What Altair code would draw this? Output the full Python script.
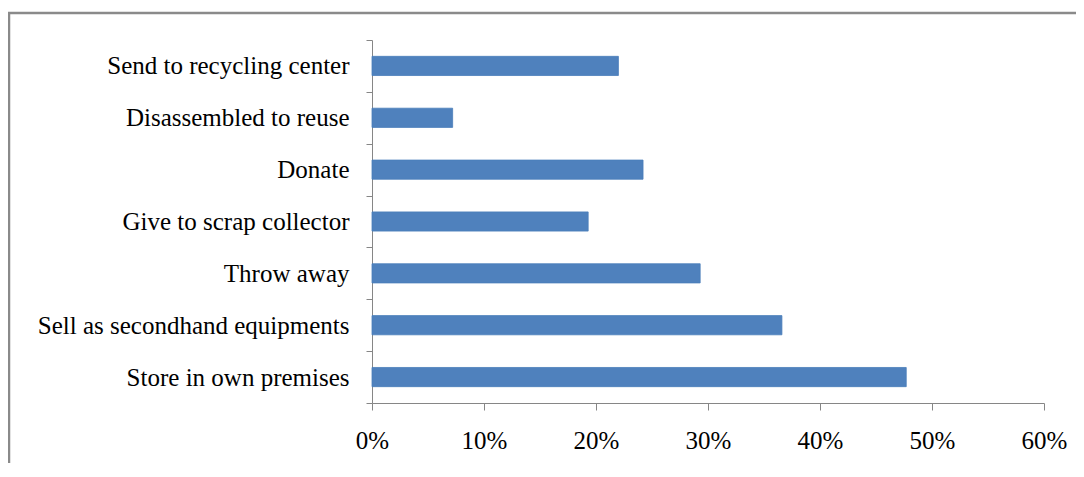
import altair as alt
import pandas as pd

categories = [
    "Send to recycling center",
    "Disassembled to reuse",
    "Donate",
    "Give to scrap collector",
    "Throw away",
    "Sell as secondhand equipments",
    "Store in own premises",
]
values = [0.220, 0.072, 0.242, 0.193, 0.293, 0.366, 0.477]
x_ticks = [0, 0.1, 0.2, 0.3, 0.4, 0.5, 0.6]

df = pd.DataFrame({"category": categories, "share": values})

FONT = "Liberation Serif"
AXIS_GRAY = "#868686"

bars = alt.Chart(df).mark_bar(
    color="#4f81bd", stroke="#4a7dba", strokeWidth=0.8,
    height=alt.RelativeBandSize(band=0.37),
).encode(
    x=alt.X(
        "share:Q",
        scale=alt.Scale(domain=[0, 0.6], nice=False, zero=True),
        axis=alt.Axis(
            values=x_ticks, format=".0%", title=None, grid=False,
            domainColor=AXIS_GRAY, tickColor=AXIS_GRAY, tickSize=7,
            labelFont=FONT, labelFontSize=25, labelColor="#000000",
            labelPadding=18, labelFlush=False,
        ),
    ),
    y=alt.Y(
        "category:N",
        sort=categories,
        scale=alt.Scale(paddingInner=0, paddingOuter=0),
        axis=alt.Axis(
            title=None, tickBand="extent", domainColor=AXIS_GRAY,
            tickColor=AXIS_GRAY, tickSize=6, labelFont=FONT, labelFontSize=25,
            labelColor="#000000", labelPadding=17, labelLimit=500,
        ),
    ),
)

frame = alt.Chart(alt.Data(values=[{"a": 1}])).mark_rect(
    filled=False, stroke="#8a8a8a", strokeWidth=2.5
).encode(
    x=alt.value(-363), x2=alt.value(720), y=alt.value(-27), y2=alt.value(450)
)

chart = alt.layer(frame, bars).properties(
    width=672,
    height=363,
    autosize=alt.AutoSizeParams(type="none"),
    padding={"left": 364, "top": 32, "right": 32, "bottom": 60},
    background="white",
).configure_view(stroke=None)

chart.save("out.html", embed_options={"renderer": "svg", "actions": False})
